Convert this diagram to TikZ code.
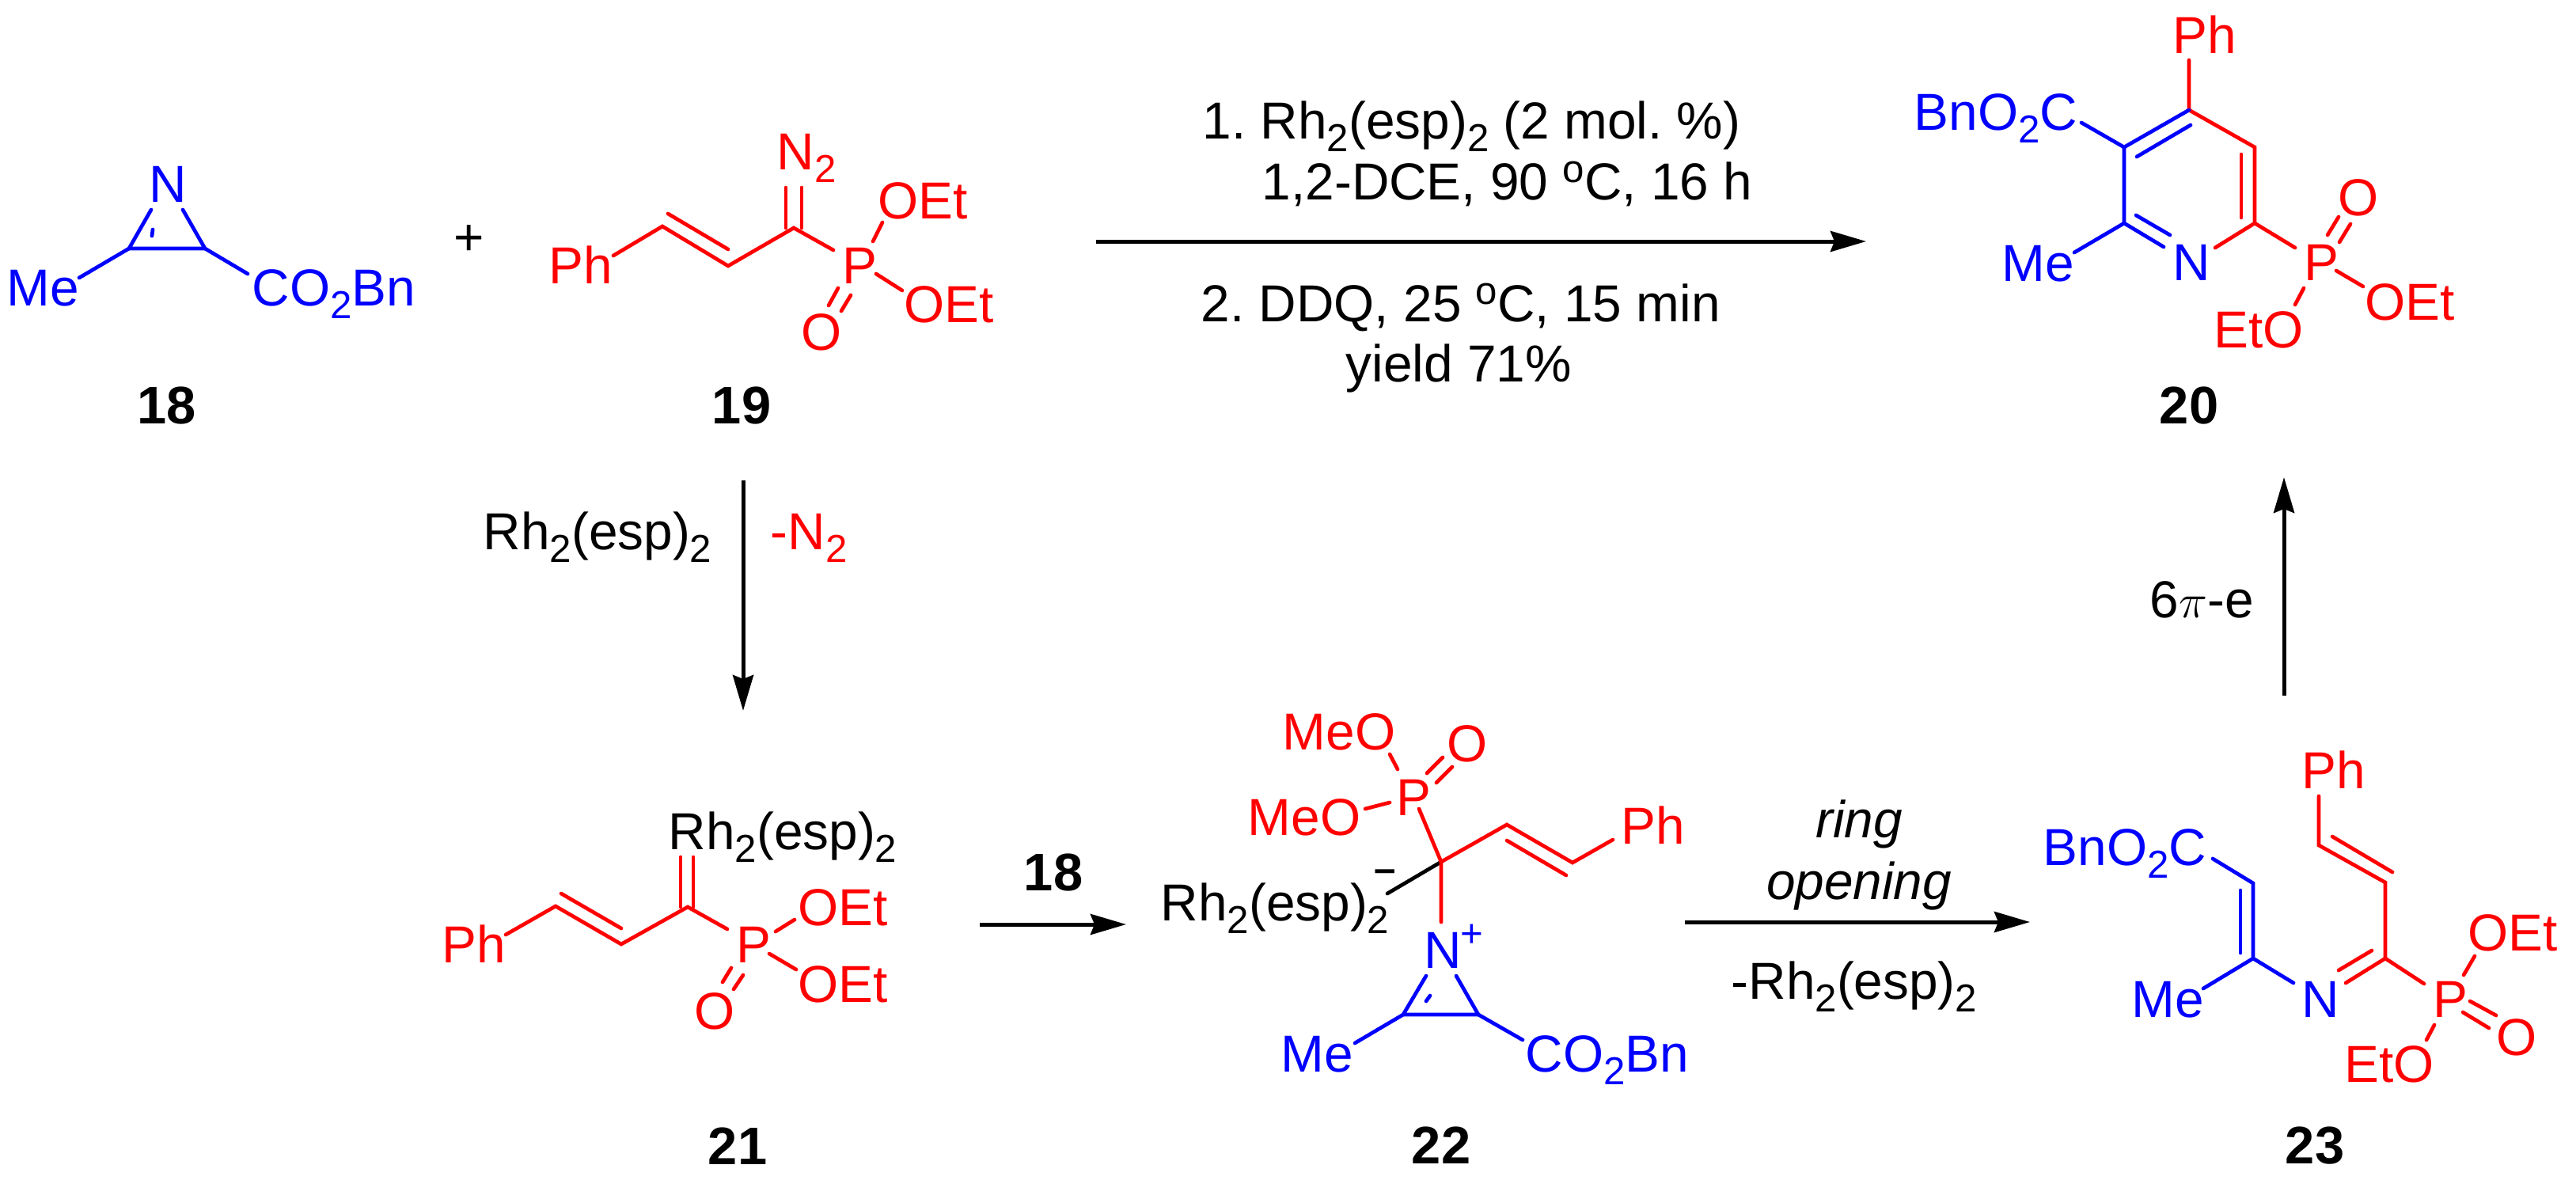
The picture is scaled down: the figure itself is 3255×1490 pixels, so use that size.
\documentclass[tikz,border=0pt]{standalone}
\usepackage{fontspec}
\setmainfont{Liberation Sans}
\usetikzlibrary{arrows.meta}
\frenchspacing
\newcommand{\subn}[1]{\raisebox{-4.6pt}{\fontsize{14}{14}\selectfont #1}}
\newcommand{\supn}[1]{\raisebox{6.2pt}{\fontsize{14}{14}\selectfont #1}}
\newcommand{\rhesp}{Rh\subn{2}(esp)\subn{2}}

\begin{document}
\begin{tikzpicture}[
    x=0.01cm, y=-0.01cm,
    bond_style/.style={line width=0.047cm, line cap=round},
    red_bond/.style={bond_style, red},
    blue_bond/.style={bond_style, blue},
    arrow_style/.style={line width=0.05cm, -{Stealth[length=0.45cm, width=0.26cm, inset=0.05cm]}},
    text_style/.style={inner sep=0pt, anchor=base west, xshift=-0.04cm, font=\fontsize{18.7}{18.7}\selectfont},
    red_text/.style={text_style, red},
    blue_text/.style={text_style, blue},
    mark_style/.style={inner sep=0pt, anchor=base, font=\fontsize{14}{14}\selectfont},
    label_style/.style={inner sep=0pt, anchor=base, font=\fontsize{19}{19}\selectfont\bfseries},
    italic_style/.style={inner sep=0pt, anchor=base, font=\fontsize{18.7}{18.7}\selectfont\itshape}
]
    \useasboundingbox (0,0) rectangle (3255,1490);

    % Compound 18
    \coordinate (a18) at (163,314);
    \coordinate (b18) at (259,314);
    \coordinate (c18) at (191,265);
    \coordinate (d18) at (231,265);
    \coordinate (e18) at (193,290);
    \coordinate (f18) at (192,298);
    \coordinate (g18) at (100,351);
    \coordinate (h18) at (313,346);
    \draw[blue_bond] (c18) -- (a18) -- (b18) -- (d18);
    \draw[blue_bond] (e18) -- (f18);
    \draw[blue_bond] (a18) -- (g18);
    \draw[blue_bond] (b18) -- (h18);
    \node[blue_text] (n18) at (192,255) {N};
    \node[blue_text] (me18) at (12,386) {Me};
    \node[blue_text] (ester18) at (322,386) {CO\subn{2}Bn};
    \node[label_style] (label18) at (211,535) {18};

    \node[text_style, anchor=base] (plus) at (597,322) {+};

    % Compound 19
    \coordinate (a19) at (775,323);
    \coordinate (b19) at (837,286);
    \coordinate (c19) at (920,336);
    \coordinate (d19) at (1003,288);
    \coordinate (e19) at (1053,316);
    \coordinate (f19) at (844,270);
    \coordinate (g19) at (920,315);
    \coordinate (h19) at (993,237);
    \coordinate (i19) at (993,288);
    \coordinate (j19) at (1013,237);
    \coordinate (k19) at (1013,288);
    \coordinate (l19) at (1103,305);
    \coordinate (m19) at (1115,281);
    \coordinate (o19) at (1107,346);
    \coordinate (p19) at (1140,367);
    \coordinate (q19) at (1059,364);
    \coordinate (r19) at (1047,386);
    \coordinate (s19) at (1075,373);
    \coordinate (t19) at (1063,393);
    \draw[red_bond] (a19) -- (b19) -- (c19) -- (d19) -- (e19);
    \draw[red_bond] (f19) -- (g19);
    \draw[red_bond] (h19) -- (i19);
    \draw[red_bond] (j19) -- (k19);
    \draw[red_bond] (l19) -- (m19);
    \draw[red_bond] (o19) -- (p19);
    \draw[red_bond] (q19) -- (r19);
    \draw[red_bond] (s19) -- (t19);
    \node[red_text] (ph19) at (697,358) {Ph};
    \node[red_text] (n19) at (985,214) {N\subn{2}};
    \node[red_text] (p_19) at (1068,358) {P};
    \node[red_text] (oet19a) at (1113,276) {OEt};
    \node[red_text] (oet19b) at (1146,407) {OEt};
    \node[red_text] (o_19) at (1016,442) {O};
    \node[label_style] (label19) at (937,535) {19};

    % Reaction 18 + 19 to 20
    \coordinate (top_start) at (1385,305);
    \coordinate (top_end) at (2358,305);
    \draw[arrow_style] (top_start) -- (top_end);
    \node[text_style] (cond_a) at (1523,175) {1. \rhesp{} (2 mol. \%)};
    \node[text_style] (cond_b) at (1598,252) {1,2-DCE, 90 \supn{o}C, 16 h};
    \node[text_style] (cond_c) at (1521,406) {2. DDQ, 25 \supn{o}C, 15 min};
    \node[text_style] (cond_d) at (1704,482) {yield 71\%};

    % Compound 20
    \coordinate (a20) at (2766,76);
    \coordinate (b20) at (2766,139);
    \coordinate (c20) at (2684,186);
    \coordinate (d20) at (2684,282);
    \coordinate (e20) at (2849,186);
    \coordinate (f20) at (2849,282);
    \coordinate (g20) at (2734,312);
    \coordinate (h20) at (2699,272);
    \coordinate (i20) at (2742,297);
    \coordinate (j20) at (2799,313);
    \coordinate (k20) at (2700,198);
    \coordinate (l20) at (2768,158);
    \coordinate (m20) at (2832,195);
    \coordinate (o20) at (2832,275);
    \coordinate (p20) at (2630,155);
    \coordinate (q20) at (2621,319);
    \coordinate (r20) at (2900,313);
    \coordinate (s20) at (2941,297);
    \coordinate (t20) at (2955,274);
    \coordinate (u20) at (2956,306);
    \coordinate (v20) at (2970,283);
    \coordinate (w20) at (2952,342);
    \coordinate (x20) at (2986,362);
    \coordinate (y20) at (2911,364);
    \coordinate (z20) at (2900,385);
    \draw[red_bond] (a20) -- (b20) -- (e20) -- (f20) -- (j20);
    \draw[red_bond] (f20) -- (r20);
    \draw[red_bond] (m20) -- (o20);
    \draw[red_bond] (s20) -- (t20);
    \draw[red_bond] (u20) -- (v20);
    \draw[red_bond] (w20) -- (x20);
    \draw[red_bond] (y20) -- (z20);
    \draw[blue_bond] (b20) -- (c20) -- (d20) -- (g20);
    \draw[blue_bond] (h20) -- (i20);
    \draw[blue_bond] (k20) -- (l20);
    \draw[blue_bond] (c20) -- (p20);
    \draw[blue_bond] (d20) -- (q20);
    \node[red_text] (ph20) at (2749,67) {Ph};
    \node[blue_text] (ester20) at (2422,164) {BnO\subn{2}C};
    \node[blue_text] (me20) at (2533,355) {Me};
    \node[blue_text] (n20) at (2749,354) {N};
    \node[red_text] (p_20) at (2915,354) {P};
    \node[red_text] (o_20) at (2958,272) {O};
    \node[red_text] (oet20) at (2992,404) {OEt};
    \node[red_text] (eto20) at (2801,439) {EtO};
    \node[label_style] (label20) at (2766,535) {20};

    % Reaction 19 to 21
    \coordinate (left_start) at (939,607);
    \coordinate (left_end) at (939,898);
    \draw[arrow_style] (left_start) -- (left_end);
    \node[text_style] (rh_cat) at (614,694) {\rhesp};
    \node[red_text] (minus_n) at (977,694) {-N\subn{2}};

    % Compound 21
    \coordinate (a21) at (639,1181);
    \coordinate (b21) at (702,1145);
    \coordinate (c21) at (785,1193);
    \coordinate (d21) at (869,1146);
    \coordinate (e21) at (919,1174);
    \coordinate (f21) at (709,1129);
    \coordinate (g21) at (785,1173);
    \coordinate (h21) at (860,1083);
    \coordinate (i21) at (860,1146);
    \coordinate (j21) at (876,1083);
    \coordinate (k21) at (876,1146);
    \coordinate (l21) at (980,1177);
    \coordinate (m21) at (1004,1162);
    \coordinate (o21) at (972,1205);
    \coordinate (p21) at (1006,1225);
    \coordinate (q21) at (924,1223);
    \coordinate (r21) at (913,1241);
    \coordinate (s21) at (939,1232);
    \coordinate (t21) at (927,1250);
    \draw[red_bond] (a21) -- (b21) -- (c21) -- (d21) -- (e21);
    \draw[red_bond] (f21) -- (g21);
    \draw[red_bond] (h21) -- (i21);
    \draw[red_bond] (j21) -- (k21);
    \draw[red_bond] (l21) -- (m21);
    \draw[red_bond] (o21) -- (p21);
    \draw[red_bond] (q21) -- (r21);
    \draw[red_bond] (s21) -- (t21);
    \node[text_style] (rh21) at (848,1073) {\rhesp};
    \node[red_text] (ph21) at (562,1216) {Ph};
    \node[red_text] (p_21) at (934,1216) {P};
    \node[red_text] (oet21a) at (1012,1169) {OEt};
    \node[red_text] (oet21b) at (1012,1266) {OEt};
    \node[red_text] (o_21) at (881,1300) {O};
    \node[label_style] (label21) at (932,1471) {21};

    % Reaction 21 to 22
    \coordinate (mid_start) at (1238,1168);
    \coordinate (mid_end) at (1423,1168);
    \draw[arrow_style] (mid_start) -- (mid_end);
    \node[label_style] (reagent18) at (1331,1125) {18};

    % Compound 22
    \coordinate (a22) at (1753,1129);
    \coordinate (b22) at (1821,1089);
    \coordinate (c22) at (1793,1022);
    \coordinate (d22) at (1904,1042);
    \coordinate (e22) at (1987,1090);
    \coordinate (f22) at (2038,1061);
    \coordinate (g22) at (1904,1062);
    \coordinate (h22) at (1979,1106);
    \coordinate (i22) at (1821,1165);
    \coordinate (j22) at (1773,1282);
    \coordinate (k22) at (1868,1282);
    \coordinate (l22) at (1802,1233);
    \coordinate (m22) at (1840,1233);
    \coordinate (o22) at (1807,1258);
    \coordinate (p22) at (1802,1265);
    \coordinate (q22) at (1712,1318);
    \coordinate (r22) at (1924,1314);
    \coordinate (s22) at (1756,953);
    \coordinate (t22) at (1766,972);
    \coordinate (u22) at (1725,1022);
    \coordinate (v22) at (1756,1014);
    \coordinate (w22) at (1803,977);
    \coordinate (x22) at (1823,957);
    \coordinate (y22) at (1815,989);
    \coordinate (z22) at (1835,969);
    \draw[bond_style] (a22) -- (b22);
    \draw[red_bond] (c22) -- (b22) -- (i22);
    \draw[red_bond] (b22) -- (d22) -- (e22) -- (f22);
    \draw[red_bond] (g22) -- (h22);
    \draw[red_bond] (s22) -- (t22);
    \draw[red_bond] (u22) -- (v22);
    \draw[red_bond] (w22) -- (x22);
    \draw[red_bond] (y22) -- (z22);
    \draw[blue_bond] (l22) -- (j22) -- (k22) -- (m22);
    \draw[blue_bond] (o22) -- (p22);
    \draw[blue_bond] (j22) -- (q22);
    \draw[blue_bond] (k22) -- (r22);
    \node[text_style] (rh22) at (1470,1163) {\rhesp};
    \node[mark_style, font=\fontsize{14}{14}\selectfont\bfseries] (minus22) at (1750,1114) {–};
    \node[red_text] (meo22a) at (1624,947) {MeO};
    \node[red_text] (meo22b) at (1580,1055) {MeO};
    \node[red_text] (p_22) at (1768,1030) {P};
    \node[red_text] (o_22) at (1832,962) {O};
    \node[red_text] (ph22) at (2052,1066) {Ph};
    \node[blue_text] (n22) at (1803,1223) {N};
    \node[mark_style, blue] (plus22) at (1860,1196) {+};
    \node[blue_text] (me22) at (1622,1354) {Me};
    \node[blue_text] (ester22) at (1931,1354) {CO\subn{2}Bn};
    \node[label_style] (label22) at (1821,1470) {22};

    % Reaction 22 to 23
    \coordinate (open_start) at (2129,1165);
    \coordinate (open_end) at (2565,1165);
    \draw[arrow_style] (open_start) -- (open_end);
    \node[italic_style] (ring) at (2349,1058) {ring};
    \node[italic_style] (opening) at (2349,1136) {opening};
    \node[text_style] (minus_rh) at (2191,1262) {-\rhesp};

    % Compound 23
    \coordinate (a23) at (2930,1006);
    \coordinate (b23) at (2930,1068);
    \coordinate (c23) at (3014,1115);
    \coordinate (d23) at (3014,1211);
    \coordinate (e23) at (2964,1242);
    \coordinate (f23) at (2947,1057);
    \coordinate (g23) at (3023,1102);
    \coordinate (h23) at (2955,1226);
    \coordinate (i23) at (2997,1201);
    \coordinate (j23) at (3063,1243);
    \coordinate (k23) at (3127,1208);
    \coordinate (l23) at (3113,1232);
    \coordinate (m23) at (3121,1265);
    \coordinate (o23) at (3154,1283);
    \coordinate (p23) at (3112,1279);
    \coordinate (q23) at (3145,1299);
    \coordinate (r23) at (3076,1295);
    \coordinate (s23) at (3066,1314);
    \coordinate (t23) at (2847,1211);
    \coordinate (u23) at (2898,1242);
    \coordinate (v23) at (2784,1249);
    \coordinate (w23) at (2847,1116);
    \coordinate (x23) at (2796,1085);
    \coordinate (y23) at (2831,1125);
    \coordinate (z23) at (2831,1204);
    \draw[red_bond] (a23) -- (b23) -- (c23) -- (d23) -- (e23);
    \draw[red_bond] (d23) -- (j23);
    \draw[red_bond] (f23) -- (g23);
    \draw[red_bond] (h23) -- (i23);
    \draw[red_bond] (k23) -- (l23);
    \draw[red_bond] (m23) -- (o23);
    \draw[red_bond] (p23) -- (q23);
    \draw[red_bond] (r23) -- (s23);
    \draw[blue_bond] (u23) -- (t23) -- (w23) -- (x23);
    \draw[blue_bond] (t23) -- (v23);
    \draw[blue_bond] (y23) -- (z23);
    \node[red_text] (ph23) at (2912,996) {Ph};
    \node[blue_text] (ester23) at (2585,1093) {BnO\subn{2}C};
    \node[blue_text] (me23) at (2697,1285) {Me};
    \node[blue_text] (n23) at (2912,1285) {N};
    \node[red_text] (p_23) at (3078,1285) {P};
    \node[red_text] (oet23) at (3122,1201) {OEt};
    \node[red_text] (o_23) at (3158,1333) {O};
    \node[red_text] (eto23) at (2966,1367) {EtO};
    \node[label_style] (label23) at (2925,1470) {23};

    % Reaction 23 to 20
    \coordinate (right_start) at (2886,879);
    \coordinate (right_end) at (2886,603);
    \draw[arrow_style] (right_start) -- (right_end);
    \node[text_style] (six_pi) at (2720,780) {6$\pi$-e};
\end{tikzpicture}
\end{document}
